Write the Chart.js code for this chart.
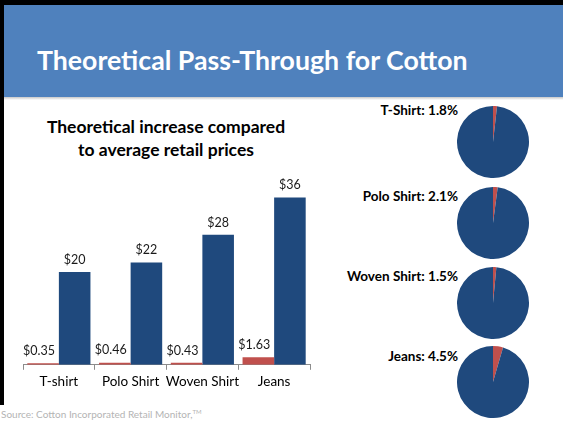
<!DOCTYPE html>
<html>
<head>
<meta charset="utf-8">
<script src="https://cdn.jsdelivr.net/npm/chart.js@4"></script>
<style>
  html, body { margin: 0; padding: 0; background: #fff; }
  body { width: 563px; height: 423px; position: relative; overflow: hidden; font-family: Lato, "Open Sans", sans-serif; }
  .frame-top { position: absolute; left: 0; top: 0; width: 563px; height: 5px; background: #000; }
  .frame-left { position: absolute; left: 0; top: 0; width: 4px; height: 405px; background: #000; }
  .band { position: absolute; left: 4px; top: 5px; width: 559px; height: 92px; background: #4F81BD; }
  .band-shadow { position: absolute; left: 4px; top: 97px; width: 559px; height: 3px; background: linear-gradient(#c8c8c8, #fff); }
  .title { position: absolute; left: 37px; top: 44px; color: #fff; font-weight: bold; font-size: 26.7px; white-space: nowrap; }
  .chart-title { position: absolute; left: 0; width: 332px; top: 115px; text-align: center; font-weight: bold; font-size: 17.5px; line-height: 23px; color: #000; }
  .pie-label { position: absolute; right: 105px; font-weight: bold; font-size: 13.5px; color: #000; white-space: nowrap; }
  .source { position: absolute; left: 1px; top: 408px; font-size: 10px; color: #b4b4b4; white-space: nowrap; }
  .source sup { font-size: 6px; }
  canvas { position: absolute; }
</style>
</head>
<body>
<div class="frame-top"></div>
<div class="frame-left"></div>
<div class="band"></div>
<div class="band-shadow"></div>
<div class="title">Theoretical Pass-Through for Cotton</div>
<div class="chart-title">Theoretical increase compared<br>to average retail prices</div>

<div style="position:absolute;left:0;top:170px;width:340px;height:235px;">
  <canvas id="bar-chart"></canvas>
</div>

<div id="pies"></div>
<div class="source">Source: Cotton Incorporated Retail Monitor,<sup>TM</sup></div>

<script>
const categories = ['T-shirt', 'Polo Shirt', 'Woven Shirt', 'Jeans'];
const cottonIncrease = [0.35, 0.46, 0.43, 1.63];
const retailPrice = [20, 22, 28, 36];

const pieNames = ['T-Shirt', 'Polo Shirt', 'Woven Shirt', 'Jeans'];
const passThroughPct = [1.8, 2.1, 1.5, 4.5];

const RED = '#C0504D';
const BLUE = '#1F497D';

// --- value labels above each bar ---
const barLabels = {
    id: 'barLabels',
    afterDatasetsDraw(chart) {
        const ctx = chart.ctx;
        ctx.save();
        ctx.font = '12.5px Lato, sans-serif';
        ctx.fillStyle = '#1a1a1a';
        ctx.textAlign = 'center';
        ctx.textBaseline = 'bottom';
        chart.data.datasets.forEach((ds, i) => {
            chart.getDatasetMeta(i).data.forEach((el, j) => {
                const v = ds.data[j];
                const small = v < 1 || v % 1;
                const txt = small ? '$' + v.toFixed(2) : '$' + v;
                // the small labels sit a little left of their bar, as in Excel
                ctx.fillText(txt, small ? el.x - 4 : el.x, el.y - 6);
            });
        });
        ctx.restore();
    }
};

new Chart(document.getElementById('bar-chart'), {
    type: 'bar',
    data: {
        labels: categories,
        datasets: [
            { label: 'Cotton increase', data: cottonIncrease, backgroundColor: RED },
            { label: 'Retail price', data: retailPrice, backgroundColor: BLUE }
        ]
    },
    options: {
        responsive: true,
        maintainAspectRatio: false,
        animation: false,
        layout: { padding: { left: 23, right: 30, top: 9, bottom: 11 } },
        datasets: { bar: { categoryPercentage: 0.88, barPercentage: 1.0 } },
        plugins: { legend: { display: false }, tooltip: { enabled: false } },
        scales: {
            x: {
                grid: { drawOnChartArea: false, drawTicks: true, tickLength: 5, color: '#8c8c8c' },
                border: { display: true, color: '#8c8c8c' },
                ticks: { color: '#000', font: { family: 'Lato', size: 13.5 }, padding: 4, maxRotation: 0, autoSkip: false }
            },
            y: { display: false, min: 0, max: 40 }
        }
    },
    plugins: [barLabels]
});

// --- four small pies on the right ---
const pieCenters = [142, 223, 303, 382];
const labelTops = [102, 188, 268, 348];
const holder = document.getElementById('pies');
pieNames.forEach((name, i) => {
    const lab = document.createElement('div');
    lab.className = 'pie-label';
    lab.style.top = labelTops[i] + 'px';
    lab.textContent = name + ': ' + passThroughPct[i] + '%';
    holder.appendChild(lab);

    const wrap = document.createElement('div');
    wrap.style.cssText = 'position:absolute;left:457px;width:72px;height:72px;top:' + (pieCenters[i] - 36) + 'px';
    const cv = document.createElement('canvas');
    wrap.appendChild(cv);
    holder.appendChild(wrap);

    new Chart(cv, {
        type: 'pie',
        data: {
            labels: ['Cotton', 'Other'],
            datasets: [{
                data: [passThroughPct[i], 100 - passThroughPct[i]],
                backgroundColor: [RED, BLUE],
                borderWidth: 0
            }]
        },
        options: {
            responsive: true,
            maintainAspectRatio: false,
            animation: false,
            plugins: { legend: { display: false }, tooltip: { enabled: false } }
        }
    });
});
</script>
</body>
</html>
